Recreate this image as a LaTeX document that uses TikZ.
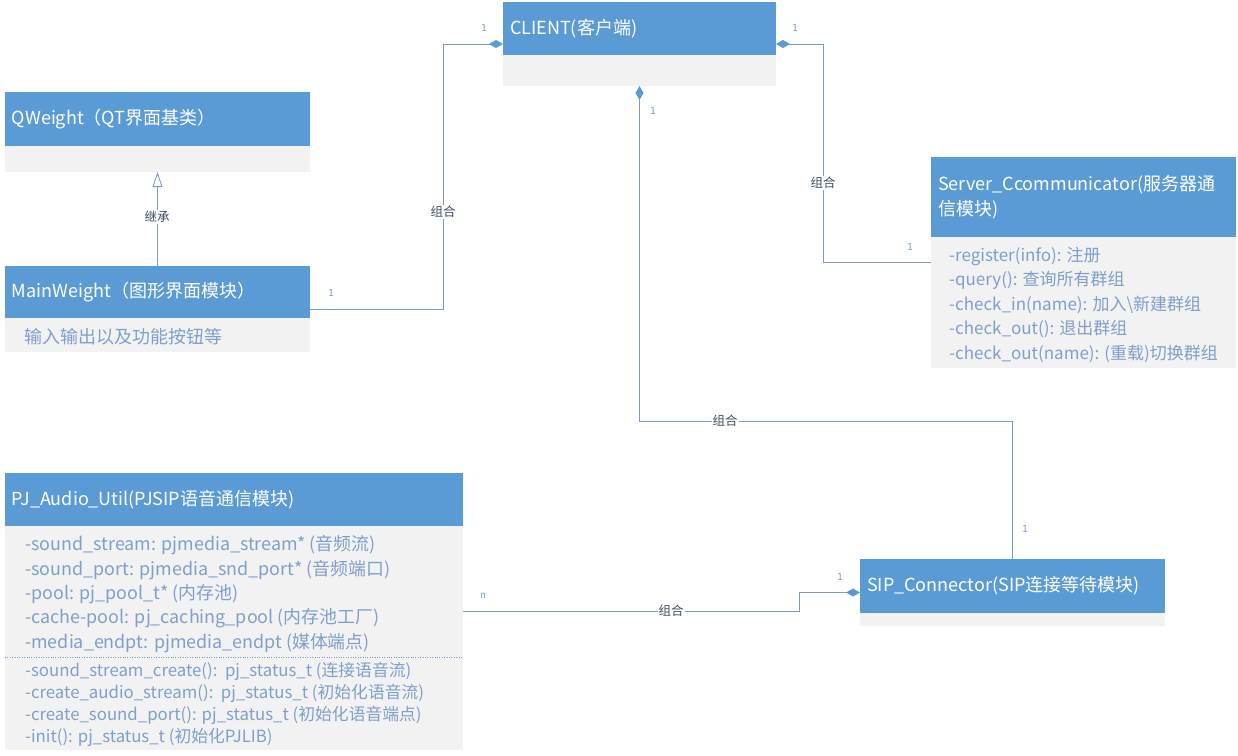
\documentclass[tikz,border=0pt]{standalone}
\usepackage{fontspec}
\setmainfont{Noto Sans CJK SC}
\newfontfamily\multfont{DejaVu Sans Mono}
\usepackage{tikz}
\usetikzlibrary{arrows.meta,positioning,calc}
\definecolor{headBlue}{HTML}{5B9BD5}
\definecolor{bodyGray}{HTML}{F2F2F2}
\definecolor{memberInk}{HTML}{7F9FCC}
\definecolor{linkBlue}{HTML}{7C9AC6}
\definecolor{labelInk}{HTML}{3F4E63}

\begin{document}
\begin{tikzpicture}[x=1pt, y=-1pt,
  classbox/.style n args={2}{fill=bodyGray, anchor=north west, inner sep=0pt,
                outer sep=0pt, minimum width=#1, minimum height=#2},
  classhead/.style n args={2}{fill=headBlue, text=white, anchor=north west,
                inner xsep=7pt, inner ysep=0pt, outer sep=0pt, minimum width=#1,
                minimum height=#2, text width=#1-14pt, align=left,
                font=\fontsize{18}{25}\selectfont},
  members/.style={text=memberInk, inner sep=0pt, align=left,
                font=\fontsize{17}{24.4}\selectfont},
  rel/.style={draw=linkBlue, line width=0.9pt},
  owns/.style={rel, -{Diamond[length=14pt, width=8pt, color=headBlue]}},
  rellabel/.style={fill=white, text=labelInk, inner sep=1pt,
                font=\fontsize{12.5}{14}\selectfont},
  mult/.style={text=linkBlue, inner sep=0pt, font=\multfont\fontsize{9.5}{10}\selectfont}
]
  \useasboundingbox (0,0) rectangle (1238,755);

  \node[classbox={273}{84}] (client) at (503,2) {};
  \node[classhead={273}{53}] (client-h) at (client.north west) {CLIENT(客户端)};

  \node[classbox={305}{80}] (qweight) at (5,92) {};
  \node[classhead={305}{54}] (qweight-h) at (qweight.north west) {QWeight（QT界面基类）};

  \node[classbox={305}{86}] (mainw) at (5,266) {};
  \node[classhead={305}{52}] (mainw-h) at (mainw.north west) {MainWeight（图形界面模块）};
  \node[members, font=\fontsize{18}{24}\selectfont, below right=10pt and 19pt of mainw-h.south west] (mainw-m)
    {输入输出以及功能按钮等};

  \node[classbox={305}{211}] (server) at (931,157) {};
  \node[classhead={305}{80}] (server-h) at (server.north west)
    {Server\_Ccommunicator(服务器通\\信模块)};
  \node[members, below right=10pt and 18pt of server-h.south west] (server-m)
    {-register(info): 注册\\
     -query(): 查询所有群组\\
     -check\_in(name): 加入\textbackslash 新建群组\\
     -check\_out(): 退出群组\\
     -check\_out(name): (重载)切换群组};

  \node[classbox={458}{277}] (pjaudio) at (5,473) {};
  \node[classhead={458}{53}] (pjaudio-h) at (pjaudio.north west)
    {PJ\_Audio\_Util(PJSIP语音通信模块)};
  \node[members, font=\fontsize{17.9}{24.3}\selectfont, below right=9.5pt and 20pt of pjaudio-h.south west] (pjaudio-f)
    {-sound\_stream: pjmedia\_stream* (音频流)\\
     -sound\_port: pjmedia\_snd\_port* (音频端口)\\
     -pool: pj\_pool\_t* (内存池)\\
     -cache-pool: pj\_caching\_pool (内存池工厂)\\
     -media\_endpt: pjmedia\_endpt (媒体端点)};
  \draw[linkBlue, dotted] ($(pjaudio.north west)+(0,184)$) -- ($(pjaudio.north east)+(0,184)$);
  \node[members, font=\fontsize{16.8}{22}\selectfont, below right=189pt and 20pt of pjaudio.north west] (pjaudio-o)
    {-sound\_stream\_create():\ \ pj\_status\_t (连接语音流)\\
     -create\_audio\_stream():\ \ pj\_status\_t (初始化语音流)\\
     -create\_sound\_port(): pj\_status\_t (初始化语音端点)\\
     -init(): pj\_status\_t (初始化PJLIB)};

  \node[classbox={305}{67}] (sipconn) at (860,559) {};
  \node[classhead={305}{54}] (sipconn-h) at (sipconn.north west) {SIP\_Connector(SIP连接等待模块)};

  \coordinate (j1) at (443,0);
  \coordinate (j2) at (823,0);
  \coordinate (j3) at (0,421);
  \coordinate (j4) at (799,0);

  \draw[rel, -{Triangle[open, length=15pt, width=10pt, fill=white]}] (mainw.north) -- (qweight.south);
  \draw[owns] (mainw.east) -- (mainw.east -| j1) |- (client.west);
  \draw[owns] (server.west) -- (server.west -| j2) |- (client.east);
  \draw[owns] (sipconn.north) -- (sipconn.north |- j3) -| (client.south);
  \draw[owns] (pjaudio.east) -- (pjaudio.east -| j4) |- (sipconn.west);

  \node[rellabel] (l-inh) at (157,217) {继承};
  \node[rellabel] (l-main) at (443,212) {组合};
  \node[rellabel] (l-server) at (823,183) {组合};
  \node[rellabel] (l-sip) at (725,421) {组合};
  \node[rellabel] (l-pj) at (671,611) {组合};

  \foreach \x/\y/\t [count=\i] in {484/28/1, 331/293/1, 795/28/1, 910/247/1,
      653/111/1, 1025/529/1, 840/577/1, 483/596/n}
    \node[mult] (m\i) at (\x,\y) {\t};
\end{tikzpicture}
\end{document}
